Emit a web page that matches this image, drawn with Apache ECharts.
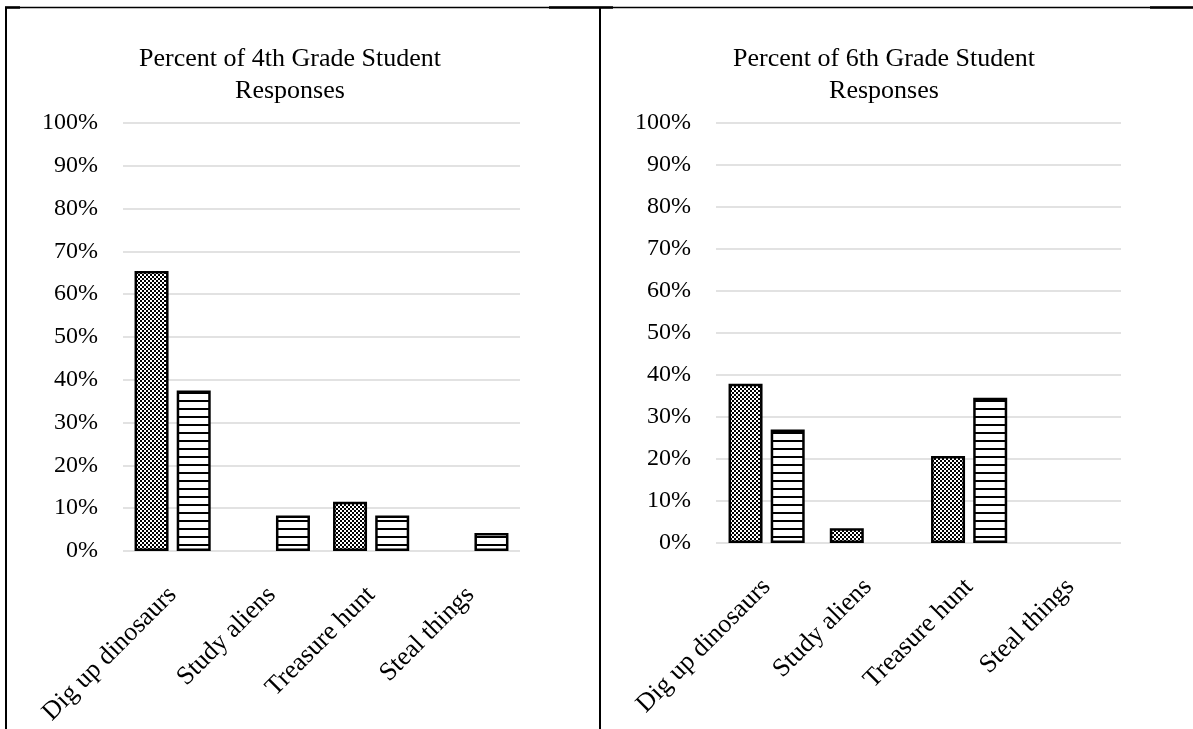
<!DOCTYPE html>
<html>
<head>
<meta charset="utf-8">
<style>
  html, body { margin: 0; padding: 0; background: #fff; }
  #echarts { width: 1193px; height: 729px; }
</style>
<script src="https://cdn.jsdelivr.net/npm/echarts@6/dist/echarts.min.js"></script>
</head>
<body>
<div id="echarts"></div>
<script>
var categories = ['Dig up dinosaurs', 'Study aliens', 'Treasure hunt', 'Steal things'];
var yTicks = [0, 10, 20, 30, 40, 50, 60, 70, 80, 90, 100];
// 4th grade chart: checker bars, then striped bars
var grade4Checker = [65.4, 0, 11.5, 0];
var grade4Striped = [37.5, 8.3, 8.3, 4.2];
// 6th grade chart
var grade6Checker = [37.9, 3.5, 20.7, 0];
var grade6Striped = [27.0, 0, 34.6, 0];

var FONT = 'Liberation Serif';

/*填充图案*/
function checkerPattern() {
    var c = document.createElement('canvas');
    c.width = 4; c.height = 4;
    var ctx = c.getContext('2d');
    ctx.fillStyle = '#fff';
    ctx.fillRect(0, 0, 4, 4);
    ctx.fillStyle = '#000';
    ctx.fillRect(0, 0, 2, 2);
    ctx.fillRect(2, 2, 2, 2);
    return c;
}
function stripePattern() {
    var c = document.createElement('canvas');
    c.width = 4; c.height = 8;
    var ctx = c.getContext('2d');
    ctx.fillStyle = '#fff';
    ctx.fillRect(0, 0, 4, 8);
    ctx.fillStyle = '#000';
    ctx.fillRect(0, 0, 4, 2);
    return c;
}
var checkerFill = { image: checkerPattern(), repeat: 'repeat' };
var stripeFill = { image: stripePattern(), repeat: 'repeat' };

function xAxisOf(idx) {
    return {
        type: 'category',
        gridIndex: idx,
        data: categories,
        axisLine: { show: false },
        axisTick: { show: false },
        axisLabel: {
            rotate: 45,
            margin: 40,
            interval: 0,
            fontFamily: FONT,
            fontSize: 26,
            color: '#000'
        }
    };
}
function yAxisOf(idx) {
    return {
        type: 'value',
        gridIndex: idx,
        min: yTicks[0],
        max: yTicks[yTicks.length - 1],
        interval: yTicks[1] - yTicks[0],
        axisLine: { show: false },
        axisTick: { show: false },
        splitLine: { lineStyle: { color: '#d9d9d9', width: 1.5 } },
        axisLabel: {
            margin: 25,
            formatter: '{value}%',
            fontFamily: FONT,
            fontSize: 24,
            color: '#000'
        }
    };
}
// 0 的柱子不画
function barOf(idx, data, fill) {
    return {
        type: 'bar',
        xAxisIndex: idx,
        yAxisIndex: idx,
        data: data.map(function (v) { return v === 0 ? '-' : v; }),
        barWidth: 34,
        barGap: '24%',
        itemStyle: {
            color: fill,
            borderColor: '#000',
            borderWidth: 2.5
        },
        emphasis: { disabled: true }
    };
}

var titleStyle = { fontFamily: FONT, fontSize: 26, fontWeight: 'normal', color: '#000', lineHeight: 32 };

var myChart = echarts.init(document.getElementById('echarts'));
var option = {
    animation: false,
    backgroundColor: '#fff',
    title: [{
        text: 'Percent of 4th Grade Student\nResponses',
        left: 285,
        top: 38,
        textAlign: 'center',
        textStyle: titleStyle
    }, {
        text: 'Percent of 6th Grade Student\nResponses',
        left: 879,
        top: 38,
        textAlign: 'center',
        textStyle: titleStyle
    }],
    grid: [
        { left: 123, top: 123, width: 397, height: 428 },
        { left: 716, top: 123, width: 405, height: 420 }
    ],
    xAxis: [xAxisOf(0), xAxisOf(1)],
    yAxis: [yAxisOf(0), yAxisOf(1)],
    series: [
        barOf(0, grade4Checker, checkerFill),
        barOf(0, grade4Striped, stripeFill),
        barOf(1, grade6Checker, checkerFill),
        barOf(1, grade6Striped, stripeFill)
    ],
    graphic: [
        // 表格边框
        { type: 'line', shape: { x1: 5, y1: 7.5, x2: 1193, y2: 7.5 }, style: { stroke: '#000', lineWidth: 1.5 } },
        { type: 'line', shape: { x1: 5, y1: 7.5, x2: 20, y2: 7.5 }, style: { stroke: '#000', lineWidth: 2.5 } },
        { type: 'line', shape: { x1: 549, y1: 7.5, x2: 613, y2: 7.5 }, style: { stroke: '#000', lineWidth: 2.5 } },
        { type: 'line', shape: { x1: 1150, y1: 7.5, x2: 1193, y2: 7.5 }, style: { stroke: '#000', lineWidth: 2.5 } },
        { type: 'line', shape: { x1: 6, y1: 7, x2: 6, y2: 729 }, style: { stroke: '#000', lineWidth: 2 } },
        { type: 'line', shape: { x1: 600, y1: 7, x2: 600, y2: 729 }, style: { stroke: '#000', lineWidth: 2 } }
    ]
};
myChart.setOption(option);
</script>
</body>
</html>
